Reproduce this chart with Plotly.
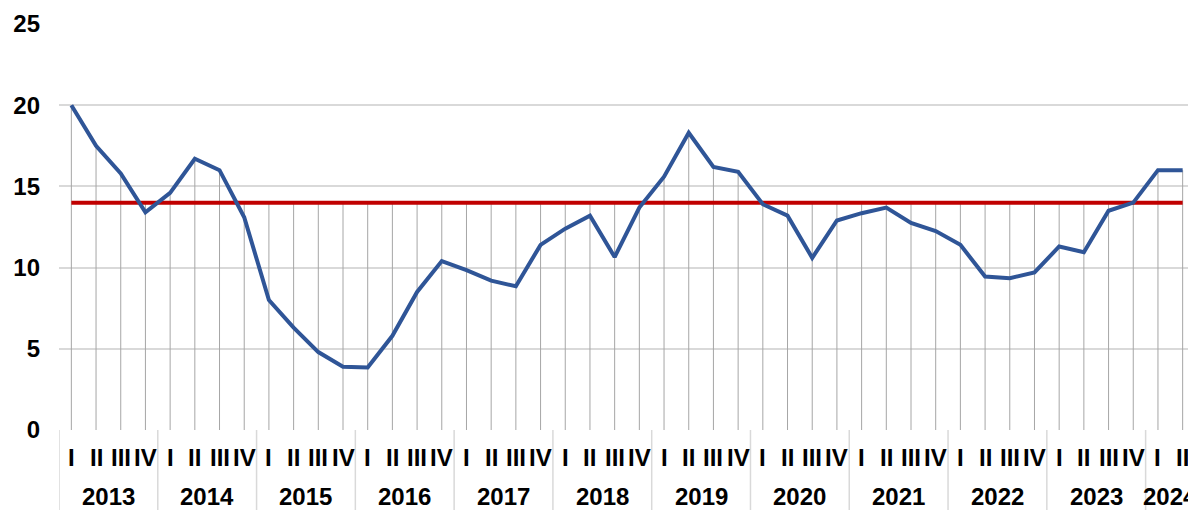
import plotly.graph_objects as go

years = ["2013"]*4 + ["2014"]*4 + ["2015"]*4 + ["2016"]*4 + ["2017"]*4 + ["2018"]*4 + \
        ["2019"]*4 + ["2020"]*4 + ["2021"]*4 + ["2022"]*4 + ["2023"]*4 + ["2024"]*2
quarters = ["I", "II", "III", "IV"]*11 + ["I", "II"]

values = [20.0, 17.5, 15.8, 13.4,
          14.6, 16.7, 16.0, 13.1,
          8.0, 6.3, 4.8, 3.9,
          3.85, 5.8, 8.5, 10.4,
          9.85, 9.2, 8.85, 11.4,
          12.4, 13.2, 10.65, 13.7,
          15.6, 18.3, 16.2, 15.9,
          13.9, 13.2, 10.6, 12.9,
          13.35, 13.7, 12.75, 12.25,
          11.4, 9.45, 9.35, 9.7,
          11.3, 10.95, 13.5, 14.0,
          16.0, 16.0]
threshold = [14.0]*len(values)

n = len(values)
idx = list(range(n))
tops = [max(v, t) for v, t in zip(values, threshold)]

FONT = "Liberation Sans, Arial"
LBL = dict(family=FONT, size=24, color="black", weight="bold")
GRID = "#D9D9D9"
FIG_H = 502
MT, MB = 16, 80
PLOT_H = FIG_H - MT - MB

fig = go.Figure()
# drop lines
fig.add_trace(go.Scatter(
    x=idx, y=[0]*n, mode="markers",
    marker=dict(size=1, color="rgba(0,0,0,0)"),
    error_y=dict(type="data", symmetric=False, array=tops, arrayminus=[0]*n,
                 width=0, thickness=1, color="#A6A6A6"),
    hoverinfo="skip", showlegend=False))
fig.add_trace(go.Scatter(x=idx, y=threshold, mode="lines",
                         line=dict(color="#C00000", width=4), showlegend=False))
fig.add_trace(go.Scatter(x=idx, y=values, mode="lines",
                         line=dict(color="#2F5597", width=4), showlegend=False))

# quarter labels
for i, q in enumerate(quarters):
    fig.add_annotation(x=i, y=0, xref="x", yref="y", text=q, showarrow=False,
                       yshift=-27, xanchor="center", yanchor="middle", font=LBL)

# year groups
groups = []
for i, yv in enumerate(years):
    if not groups or groups[-1][0] != yv:
        groups.append([yv, i, i])
    else:
        groups[-1][2] = i
for yv, s, e in groups:
    fig.add_annotation(x=(s + e) / 2, y=0, xref="x", yref="y", text=yv, showarrow=False,
                       yshift=-66, xanchor="center", yanchor="middle", font=LBL)
    fig.add_shape(type="line", xref="x", yref="paper", x0=s - 0.5, x1=s - 0.5,
                  y0=0, y1=-MB / PLOT_H, line=dict(color=GRID, width=1.5))
fig.add_shape(type="line", xref="x", yref="paper", x0=n - 0.5, x1=n - 0.5,
              y0=0, y1=-MB / PLOT_H, line=dict(color=GRID, width=1.5))

fig.update_layout(
    width=1188, height=FIG_H,
    margin=dict(l=51, r=1, t=MT, b=MB),
    paper_bgcolor="white", plot_bgcolor="white",
    font=dict(family=FONT, color="black"),
    showlegend=False,
)
fig.update_xaxes(
    range=[-0.5, n - 0.5], showgrid=False, zeroline=False,
    showline=False, showticklabels=False, ticks="",
)
fig.update_yaxes(
    range=[0, 25], tickvals=[0, 5, 10, 15, 20, 25],
    showgrid=True, gridcolor=GRID, gridwidth=1.5,
    zeroline=False, showline=False,
    tickfont=LBL, ticklabelstandoff=18,
)

fig.write_html("out.html")
